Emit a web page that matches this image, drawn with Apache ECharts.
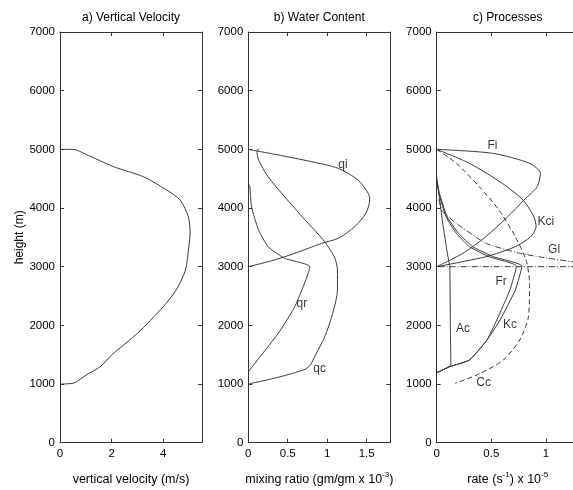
<!DOCTYPE html>
<html>
<head>
<meta charset="utf-8">
<script src="https://cdn.jsdelivr.net/npm/echarts@6/dist/echarts.min.js"></script>
<style>html,body{margin:0;padding:0;background:#fff}#c{width:573px;height:490px}</style>
</head>
<body>
<div id="c"></div>
<script>
// ---- data ----
var heightTicks = [0, 1000, 2000, 3000, 4000, 5000, 6000, 7000];
var titles = ['a) Vertical Velocity', 'b) Water Content', 'c) Processes'];

// a) vertical velocity
var velValue  = [0, 0.52, 1.0, 1.56, 2.0, 3.0, 4.0, 4.5, 4.86, 4.99, 5.04, 4.97, 4.65, 4.13, 3.23, 2.07, 1.0, 0.52, 0];
var velHeight = [1000, 1015, 1150, 1296, 1495, 1864, 2318, 2603, 2944, 3341, 3569, 3852, 4137, 4307, 4534, 4705, 4915, 5000, 5000];

// b) water content
var qiValue  = [0, 0.38, 0.80, 1.14, 1.39, 1.52, 1.54, 1.49, 1.35, 1.14, 0.93, 0.59, 0.30, 0];
var qiHeight = [5000, 4904, 4790, 4677, 4478, 4251, 4137, 3910, 3682, 3484, 3398, 3228, 3102, 3000];
var qcValue  = [0, 0.38, 0.72, 0.79, 0.84, 0.97, 1.07, 1.13, 1.13, 1.09, 0.95, 0.72, 0.46, 0.25, 0.13, 0.11, 0.135];
var qcHeight = [1000, 1115, 1251, 1330, 1466, 1807, 2206, 2603, 2944, 3170, 3455, 3796, 4193, 4534, 4818, 4960, 5017];
var qrValue  = [0, 0.15, 0.38, 0.59, 0.78, 0.46, 0.25, 0.13, 0.04, 0.02, 0.01];
var qrHeight = [1210, 1466, 1864, 2318, 3000, 3143, 3341, 3625, 4023, 4364, 4400];

// c) processes
var fiValue  = [0, 0.51, 0.85, 0.95, 0.92, 0.80, 0.65, 0.45, 0.24, 0];
var fiHeight = [5000, 4933, 4762, 4592, 4364, 4137, 3852, 3511, 3228, 3000];
var kciValue  = [0, 0.30, 0.60, 0.79, 0.89, 0.91, 0.86, 0.72, 0.45, 0];
var kciHeight = [5000, 4762, 4421, 4137, 3852, 3682, 3511, 3341, 3170, 3000];
var ccValue  = [0, 0.18, 0.39, 0.57, 0.72, 0.82, 0.85, 0.84, 0.76, 0.61, 0.40, 0.17];
var ccHeight = [5000, 4762, 4364, 3966, 3511, 3100, 2717, 2148, 1750, 1410, 1182, 1012];
var glValue  = [0.02, 0.05, 0.18, 0.45, 0.76, 1.0, 1.24, 1.6, 1.6, 0];
var glHeight = [4150, 3950, 3739, 3398, 3228, 3150, 3085, 3030, 3000, 3000];
var frValue  = [0, 0.02, 0.085, 0.18, 0.30, 0.48, 0.73, 0.67, 0.55, 0.46, 0.30, 0.12, 0];
var frHeight = [4480, 4251, 3852, 3569, 3341, 3170, 3010, 2603, 2091, 1750, 1410, 1296, 1193];
var kcValue  = [0, 0.025, 0.095, 0.20, 0.33, 0.52, 0.78, 0.72, 0.58, 0.46, 0.30, 0.12, 0];
var kcHeight = [4480, 4251, 3852, 3569, 3341, 3170, 3010, 2603, 2091, 1750, 1410, 1296, 1193];
var acValue  = [0, 0.03, 0.055, 0.10, 0.12, 0.125, 0.13, 0];
var acHeight = [4534, 4100, 3739, 3200, 3000, 2000, 1324, 1193];

// curve labels
var bLabelNames = ['qi', 'qr', 'qc'];
var bLabelX = [1.2, 0.68, 0.905];
var bLabelY = [4733, 2364, 1268];
var cLabelNames = ['Fi', 'Kci', 'Gl', 'Fr', 'Ac', 'Kc', 'Cc'];
var cLabelX = [0.51, 1.0, 1.075, 0.59, 0.24, 0.67, 0.43];
var cLabelY = [5057, 3767, 3284, 2745, 1949, 2006, 1023];

// ---- chart ----
function pairs(xs, ys) { return xs.map(function (v, i) { return [v, ys[i]]; }); }
var FONT = "'Liberation Sans', Arial, Helvetica, sans-serif";
var AX = '#333';
var LC = '#3a3a3a';

var gridLefts = [60, 248.3, 436.7];
var gridW = 142;
var xMax = [5.5, 1.8, 1.3];
var xInt = [2, 0.5, 0.5];
var xNames = ['vertical velocity (m/s)',
  'mixing ratio (gm/gm x 10{s|-3})',
  'rate (s{s|-1}) x 10{s|-5}'];

var grids = [], xAxes = [], yAxes = [];
for (var i = 0; i < 3; i++) {
  grids.push({ left: gridLefts[i], width: gridW, top: 32, bottom: 47.3, show: false,
    containLabel: false, outerBoundsMode: 'none' });
}
for (var i = 0; i < 3; i++) {
  xAxes.push({
    gridIndex: i, type: 'value', min: 0, max: xMax[i], interval: xInt[i], position: 'bottom',
    axisLine: { show: true, onZero: false, lineStyle: { color: AX, width: 1 } },
    axisTick: { show: true, inside: true, length: 4, lineStyle: { color: AX } },
    axisLabel: { show: true, margin: 5, color: '#000', fontSize: 11.5, fontFamily: FONT,
      showMaxLabel: false },
    splitLine: { show: false },
    name: xNames[i], nameLocation: 'middle', nameGap: 28.5,
    nameTextStyle: { color: '#000', fontSize: 12.5, fontFamily: FONT, lineHeight: 16,
      rich: { s: { fontSize: 8, fontFamily: FONT, color: '#000', verticalAlign: 'top', lineHeight: 8, padding: [0, 0, 6, 0] } } }
  });
}
for (var i = 0; i < 3; i++) {
  xAxes.push({
    gridIndex: i, type: 'value', min: 0, max: xMax[i], interval: xInt[i], position: 'top',
    axisLine: { show: true, onZero: false, lineStyle: { color: AX, width: 1 } },
    axisTick: { show: true, inside: true, length: 4, lineStyle: { color: AX } },
    axisLabel: { show: false }, splitLine: { show: false },
    name: titles[i], nameLocation: 'middle', nameGap: 8,
    nameTextStyle: { color: '#000', fontSize: 12, fontFamily: FONT, verticalAlign: 'bottom' }
  });
}
for (var i = 0; i < 3; i++) {
  yAxes.push({
    gridIndex: i, type: 'value', min: heightTicks[0], max: heightTicks[heightTicks.length - 1],
    interval: heightTicks[1] - heightTicks[0], position: 'left',
    axisLine: { show: true, onZero: false, lineStyle: { color: AX, width: 1 } },
    axisTick: { show: true, inside: true, length: 4, lineStyle: { color: AX } },
    axisLabel: { show: true, margin: 5, color: '#000', fontSize: 11.5, fontFamily: FONT,
      formatter: function (v) { return String(v); } },
    splitLine: { show: false },
    name: i === 0 ? 'height (m)' : '', nameLocation: 'middle', nameGap: 32, nameRotate: 90,
    nameTextStyle: { color: '#000', fontSize: 12, fontFamily: FONT }
  });
}
for (var i = 0; i < 3; i++) {
  yAxes.push({
    gridIndex: i, type: 'value', min: heightTicks[0], max: heightTicks[heightTicks.length - 1],
    interval: heightTicks[1] - heightTicks[0], position: 'right',
    axisLine: { show: true, onZero: false, lineStyle: { color: AX, width: 1 } },
    axisTick: { show: true, inside: true, length: 4, lineStyle: { color: AX } },
    axisLabel: { show: false }, splitLine: { show: false }
  });
}

function line(g, xs, ys, type, smooth) {
  return {
    type: 'line', xAxisIndex: g, yAxisIndex: g, data: pairs(xs, ys),
    showSymbol: false, symbol: 'none', smooth: smooth === undefined ? 0.25 : smooth,
    lineStyle: { color: LC, width: 1, type: type || 'solid' }, silent: true, animation: false, z: 3
  };
}
function labels(g, names, xs, ys) {
  return {
    type: 'scatter', xAxisIndex: g, yAxisIndex: g, symbolSize: 0, silent: true, animation: false,
    data: names.map(function (n, i) { return { name: n, value: [xs[i], ys[i]] }; }),
    label: { show: true, position: 'inside', formatter: '{b}', color: '#000', fontSize: 12, fontFamily: FONT },
    z: 5
  };
}

var series = [
  line(0, velValue, velHeight),
  line(1, qiValue, qiHeight),
  line(1, qcValue, qcHeight),
  line(1, qrValue, qrHeight, 'solid', 0.15),
  labels(1, bLabelNames, bLabelX, bLabelY),
  line(2, fiValue, fiHeight),
  line(2, kciValue, kciHeight),
  line(2, ccValue, ccHeight, [5, 3]),
  line(2, glValue, glHeight, [6, 2, 1, 2], 0.15),
  line(2, frValue, frHeight, 'solid', 0.15),
  line(2, kcValue, kcHeight, 'solid', 0.15),
  line(2, acValue, acHeight, 'solid', 0.1),
  labels(2, cLabelNames, cLabelX, cLabelY)
];

var chart = echarts.init(document.getElementById('c'), null, { renderer: 'canvas' });
chart.setOption({
  animation: false,
  backgroundColor: '#fff',
  textStyle: { fontFamily: FONT },
  grid: grids, xAxis: xAxes, yAxis: yAxes, series: series
});
</script>
</body>
</html>
